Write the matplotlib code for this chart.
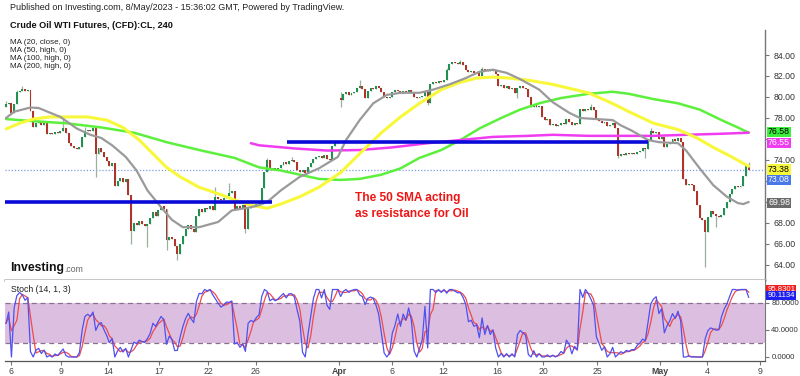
import matplotlib
matplotlib.use("Agg")
import matplotlib.pyplot as plt
import numpy as np
from matplotlib.transforms import blended_transform_factory

plt.rcParams['font.family'] = ['Liberation Sans', 'DejaVu Sans']

# ---------------- data ----------------
first_open = 79.0
closes = [
    79.3, 79.4, 78.5, 79.3, 80.5, 80.6, 80.8, 80.6, 80.7, 78.7,
    77.1, 77.5, 77.6, 77.3, 77.5, 76.5, 76.6, 76.5, 76.7, 76.6,
    76.8, 77.0, 76.6, 75.6, 75.3, 75.1, 75.0, 75.2, 76.2, 76.8,
    76.9, 76.8, 77.0, 74.6, 75.1, 74.8, 74.3, 73.9, 73.4, 73.7,
    71.5, 72.0, 72.3, 71.9, 72.2, 70.7, 67.2, 68.0, 67.8, 68.2,
    67.9, 67.7, 67.9, 68.5, 69.0, 68.7, 69.2, 69.6, 69.3, 66.4,
    66.7, 66.5, 65.8, 65.0, 66.0, 66.8, 67.4, 67.8, 67.4, 67.1,
    68.7, 69.3, 69.0, 69.4, 69.3, 69.6, 69.2, 70.5, 70.3, 70.2,
    70.4, 70.6, 70.9, 71.0, 69.3, 69.6, 69.4, 69.7, 67.4, 69.4,
    69.6, 69.5, 69.8, 70.0, 71.3, 72.9, 74.0, 73.0, 73.2, 73.0,
    73.2, 73.5, 73.8, 73.6, 73.9, 74.0, 73.8, 73.0, 72.9, 73.0,
    72.8, 73.3, 73.7, 74.1, 74.3, 74.4, 74.2, 74.5, 74.1, 74.0,
    75.3, 75.6, 75.8, 79.7, 80.3, 80.5, 80.2, 80.4, 80.5, 80.9,
    81.0, 80.8, 79.9, 80.6, 80.9, 80.8, 81.0, 80.9, 80.5, 80.0,
    79.9, 80.0, 80.5, 80.7, 80.6, 80.4, 80.6, 80.5, 80.7, 80.5,
    80.0, 79.9, 80.0, 80.1, 80.5, 79.4, 81.2, 81.4, 81.3, 81.5,
    81.4, 81.6, 82.6, 83.1, 83.3, 83.2, 83.1, 83.3, 83.0, 82.6,
    82.4, 82.5, 82.3, 82.4, 82.0, 82.7, 82.5, 82.7, 82.5, 82.6,
    82.2, 81.0, 81.1, 80.9, 81.0, 80.8, 80.9, 80.4, 80.9, 81.0,
    80.9, 80.8, 80.0, 79.0, 79.3, 79.0, 79.1, 78.1, 77.8, 77.9,
    77.3, 77.4, 77.2, 77.3, 77.5, 77.4, 77.9, 77.6, 77.3, 77.5,
    77.4, 78.9, 78.7, 78.9, 78.8, 79.0, 78.8, 77.9, 77.7, 77.5,
    77.6, 77.2, 77.3, 77.5, 77.0, 74.4, 74.6, 74.5, 74.7, 74.6,
    74.7, 74.6, 74.8, 74.9, 75.1, 75.0, 75.9, 76.8, 76.6, 76.7,
    76.0, 76.2, 75.2, 75.5, 75.7, 76.0, 75.8, 76.1, 75.7, 72.2,
    71.6, 71.7, 71.6, 71.0, 69.7, 68.5, 68.3, 67.1, 68.6, 69.1,
    68.9, 68.7, 68.6, 68.8, 69.4, 70.0, 70.8, 71.2, 71.5, 71.4,
    71.5, 72.5, 73.4, 73.08,
]
gap_opens = {123: 79.9}
wick_high = {0: 79.6, 4: 80.7, 6: 81.0, 21: 78.0, 29: 77.1, 77: 71.4, 82: 71.8,
             96: 74.2, 105: 74.3, 123: 80.5, 130: 81.6, 162: 82.8, 167: 83.5,
             175: 82.9, 215: 79.3, 237: 77.0, 273: 73.8}
wick_low = {33: 72.4, 46: 66.0, 52: 65.7, 59: 65.4, 63: 64.5, 88: 67.0, 123: 79.0,
            155: 79.2, 188: 79.9, 225: 74.2, 235: 74.2, 257: 63.8, 261: 67.6}

# moving averages (knots: candle index, value)
ma20_idx = [0, 3, 9, 12, 20, 26, 31, 35, 39, 44, 48, 52, 57, 61, 65, 71, 78, 83, 90, 93,
            96, 101, 108, 115, 122, 125, 130, 135, 140, 145, 152, 157, 163, 169, 174, 179,
            184, 189, 196, 201, 207, 211, 217, 223, 226, 230, 236, 240, 247, 250, 255, 260,
            265, 269, 271, 273]
ma20_val = [78.0, 78.6, 79.0, 78.95, 78.1, 77.0, 76.4, 76.1, 75.4, 74.3, 73.0, 71.1, 69.5,
            68.3, 67.6, 67.6, 68.1, 69.2, 69.5, 69.7, 70.0, 71.1, 72.4, 73.2, 74.3, 75.9,
            77.8, 79.4, 80.2, 80.4, 80.4, 80.7, 81.2, 81.8, 82.4, 82.6, 82.3, 81.7, 80.7,
            79.5, 78.5, 78.0, 77.9, 77.8, 77.3, 76.8, 75.9, 75.7, 75.6, 74.9, 73.2, 71.6,
            70.5, 69.9, 69.8, 70.0]
ma50_idx = [0, 5, 10, 16, 22, 30, 37, 43, 49, 54, 59, 64, 71, 79, 84, 90, 96, 101, 108,
            115, 123, 130, 138, 145, 152, 160, 167, 173, 179, 185, 192, 201, 214, 222, 229,
            238, 247, 254, 260, 266, 273]
ma50_val = [76.95, 77.5, 77.9, 78.1, 78.1, 78.1, 77.8, 77.1, 75.9, 74.6, 73.3, 72.4, 71.4,
            70.7, 70.2, 69.7, 69.4, 69.8, 70.5, 71.4, 72.8, 74.6, 76.6, 78.1, 79.4, 80.7,
            81.4, 81.8, 81.9, 81.8, 81.6, 81.2, 80.4, 79.5, 78.6, 77.5, 76.9, 76.1, 75.2,
            74.4, 73.4]
ma100_idx = [0, 10, 22, 35, 47, 59, 71, 84, 93, 101, 108, 115, 123, 130, 138, 145, 152,
             160, 167, 174, 182, 189, 196, 204, 214, 223, 229, 238, 247, 255, 263, 269, 273]
ma100_val = [77.9, 77.7, 77.5, 77.1, 76.6, 75.7, 74.95, 74.2, 73.3, 73.0, 72.6, 72.2, 72.1,
             72.2, 72.6, 73.2, 74.2, 74.95, 75.9, 77.0, 78.0, 78.8, 79.4, 79.9, 80.3, 80.5,
             80.3, 79.8, 79.4, 78.8, 77.8, 77.1, 76.6]
ma200_idx = [90, 93, 106, 118, 130, 142, 155, 167, 179, 192, 201, 214, 226, 238, 250, 263, 273]
ma200_val = [75.6, 75.4, 75.1, 74.9, 74.95, 75.2, 75.6, 75.9, 76.2, 76.3, 76.4, 76.3, 76.3,
             76.3, 76.4, 76.5, 76.6]

# horizontal support / resistance lines: (start idx, end idx, price)
support_line = (-0.4, 97.8, 70.03)
resist_line = (103.3, 236.0, 75.75)
last_price = 73.08
price_labels = ["76.58", "76.55", "73.38", "73.08", "69.98"]
stoch_labels = ["95.8301", "90.1134"]

tick_idx = [1.8, 20.2, 37.5, 56.25, 74.3, 91.9, 122.4, 141.9, 160.7, 180.5, 197.4, 217.3,
            240.4, 257.7, 277.2]
tick_labels = ["6", "9", "14", "17", "22", "26", "Apr", "6", "12", "16", "20", "25",
               "May", "4", "9"]
price_ticks = [64, 66, 68, 70, 72, 74, 76, 78, 80, 82, 84]
hidden_price_ticks = [70, 72, 76]
stoch_ticks = [0, 40, 80]

# ---------------- derived ----------------
C = np.array(closes)
N = len(C)
idx = np.arange(N)
O = np.empty(N)
O[0] = first_open
O[1:] = C[:-1]
for k, v in gap_opens.items():
    O[k] = v
H = np.maximum(O, C)
L = np.minimum(O, C)
for k, v in wick_high.items():
    H[k] = max(H[k], v)
for k, v in wick_low.items():
    L[k] = min(L[k], v)

# Stochastic (14, 1, 3)
K = np.zeros(N)
for i in range(N):
    s = max(0, i - 13)
    hh, ll = H[s:i + 1].max(), L[s:i + 1].min()
    K[i] = 100 * (C[i] - ll) / (hh - ll) if hh > ll else 50
D = np.array([K[max(0, i - 2):i + 1].mean() for i in range(N)])

# ---------------- figure ----------------
W, Hpx = 800, 376
fig = plt.figure(figsize=(W / 100, Hpx / 100), dpi=100)
fig.patch.set_facecolor('white')


def rect(x0, y0, x1, y1):
    return [x0 / W, 1 - y1 / Hpx, (x1 - x0) / W, (y1 - y0) / Hpx]


ax = fig.add_axes(rect(5, 30, 765, 280))
axs = fig.add_axes(rect(5, 280, 765, 361))

xl = (-0.37, 279.0)
ax.set_xlim(*xl)
ax.set_ylim(62.571, 86.381)

# candles
up = C >= O
green, red = '#1f9150', '#b2332a'
ax.vlines(idx, L, H, color='#9bb09f', lw=0.9, zorder=2)
body_h = np.maximum(np.abs(C - O), 0.09)
body_b = np.minimum(O, C)
ax.bar(idx[up], body_h[up], bottom=body_b[up], width=0.72, color=green, lw=0, zorder=3)
ax.bar(idx[~up], body_h[~up], bottom=body_b[~up], width=0.72, color=red, lw=0, zorder=3)

# moving averages
ax.plot(ma100_idx, ma100_val, color='#5cf03c', lw=1.8, zorder=4, solid_capstyle='round')
ax.plot(ma200_idx, ma200_val, color='#f03cf0', lw=1.8, zorder=4, solid_capstyle='round')
ax.plot(ma50_idx, ma50_val, color='#f8f83a', lw=2.2, zorder=4, solid_capstyle='round')
ax.plot(ma20_idx, ma20_val, color='#9a9a9a', lw=1.6, zorder=4, solid_capstyle='round')

# horizontal lines
for (a, b, p) in (support_line, resist_line):
    ax.plot([a, b], [p, p], color='#0a0ad8', lw=2.6, zorder=5, solid_capstyle='butt')
ax.axhline(last_price, color='#7f9be8', lw=0.9, ls=(0, (1, 1.5)), zorder=1)

# annotation
ax.text(128.3, 70.38, "The 50 SMA acting", color='#ee1515', fontsize=8.6,
        fontweight='bold', va='center', ha='left', zorder=6)
ax.text(128.3, 68.9, "as resistance for Oil", color='#ee1515', fontsize=8.6,
        fontweight='bold', va='center', ha='left', zorder=6)

# axes styling main
for s in ('top', 'left'):
    ax.spines[s].set_visible(False)
ax.spines['right'].set_color('#777777')
ax.spines['right'].set_linewidth(1.0)
ax.spines['bottom'].set_color('#b4b4b4')
ax.spines['bottom'].set_linewidth(1.8)
ax.set_xticks([])
ax.yaxis.tick_right()
ax.set_yticks(price_ticks)
ax.set_yticklabels(["" if t in hidden_price_ticks else f"{t:.2f}" for t in price_ticks])
ax.tick_params(axis='y', length=3, width=0.8, colors='#777777', labelsize=6.3,
               labelcolor='#333333', pad=3)

# price label boxes
tr = blended_transform_factory(ax.transAxes, ax.transData)
boxes = [
    (76.67, price_labels[0], '#3ef03e', 'black'),
    (75.62, price_labels[1], '#f03cf0', 'white'),
    (73.10, price_labels[2], '#f8f83a', 'black'),
    (72.10, price_labels[3], '#4a78e8', 'white'),
    (69.92, price_labels[4], '#6a6a6a', 'white'),
]
for y, t, fc, tc in boxes:
    ax.text(1.004, y, t, transform=tr, fontsize=6.3, color=tc, va='center', ha='left',
            zorder=10, clip_on=False,
            bbox=dict(boxstyle='square,pad=0.08', fc=fc, ec='none'))

# ---------------- stochastic panel ----------------
axs.set_xlim(*xl)
axs.set_ylim(-5.93, 114.07)
axs.axhspan(20, 80, color='#dcbfe0', zorder=0, lw=0)
for v in (20, 80):
    axs.axhline(v, color='#8a7090', lw=0.9, ls=(0, (4, 3)), zorder=1)
axs.plot(idx, K, color='#5050f0', lw=0.9, zorder=3)
axs.plot(idx, D, color='#f04a4a', lw=0.9, zorder=2)
for s in ('top', 'left'):
    axs.spines[s].set_visible(False)
axs.spines['right'].set_color('#777777')
axs.spines['bottom'].set_color('#555555')
axs.spines['bottom'].set_linewidth(0.9)
axs.yaxis.tick_right()
axs.set_yticks(stoch_ticks)
axs.set_yticklabels([f"{t:.4f}" for t in stoch_ticks])
axs.tick_params(axis='y', length=3, width=0.8, colors='#777777', labelsize=5.6,
                labelcolor='#333333', pad=1.5)
axs.set_xticks(tick_idx)
axs.set_xticklabels(tick_labels)
axs.tick_params(axis='x', length=3, width=0.8, colors='#777777', labelsize=6.3,
                labelcolor='#444444', pad=1.5)
for lab in axs.get_xticklabels():
    if lab.get_text() in ("Apr", "May"):
        lab.set_fontweight('bold')
trs = blended_transform_factory(axs.transAxes, axs.transData)
axs.text(1.003, 100.5, stoch_labels[0], transform=trs, fontsize=5.6, color='white',
         va='center', ha='left', zorder=10, clip_on=False,
         bbox=dict(boxstyle='square,pad=0.12', fc='#f01e1e', ec='none'))
axs.text(1.003, 91.0, stoch_labels[1], transform=trs, fontsize=5.6, color='white',
         va='center', ha='left', zorder=10, clip_on=False,
         bbox=dict(boxstyle='square,pad=0.12', fc='#1e1ef0', ec='none'))
axs.text(0.008, 0.88, "Stoch (14, 1, 3)", transform=axs.transAxes, fontsize=6.3,
         color='#222222', va='center', ha='left')

# ---------------- header texts ----------------
fig.text(10 / W, 1 - 8 / Hpx,
         "Published on Investing.com, 8/May/2023 - 15:36:02 GMT, Powered by TradingView.",
         fontsize=6.5, color='#222222', va='center', ha='left')
fig.text(10 / W, 1 - 25 / Hpx, "Crude Oil WTI Futures, (CFD):CL, 240", fontsize=6.6,
         fontweight='bold', color='#111111', va='center', ha='left')
for k, t in enumerate(["MA (20, close, 0)", "MA (50, high, 0)", "MA (100, high, 0)",
                       "MA (200, high, 0)"]):
    fig.text(10 / W, 1 - (43 + 8 * k) / Hpx, t, fontsize=5.8, color='#222222',
             va='center', ha='left')
inv = fig.text(10 / W, 1 - 268 / Hpx, "Investing", fontsize=8.8, fontweight='bold',
               color='#111111', va='center', ha='left')
fig.canvas.draw()
bb = inv.get_window_extent()
fig.text((bb.x1 + 0.5) / W, 1 - 269.5 / Hpx, ".com", fontsize=6.3, color='#666666',
         va='center', ha='left')

fig.savefig("out.png", dpi=100, facecolor='white')
